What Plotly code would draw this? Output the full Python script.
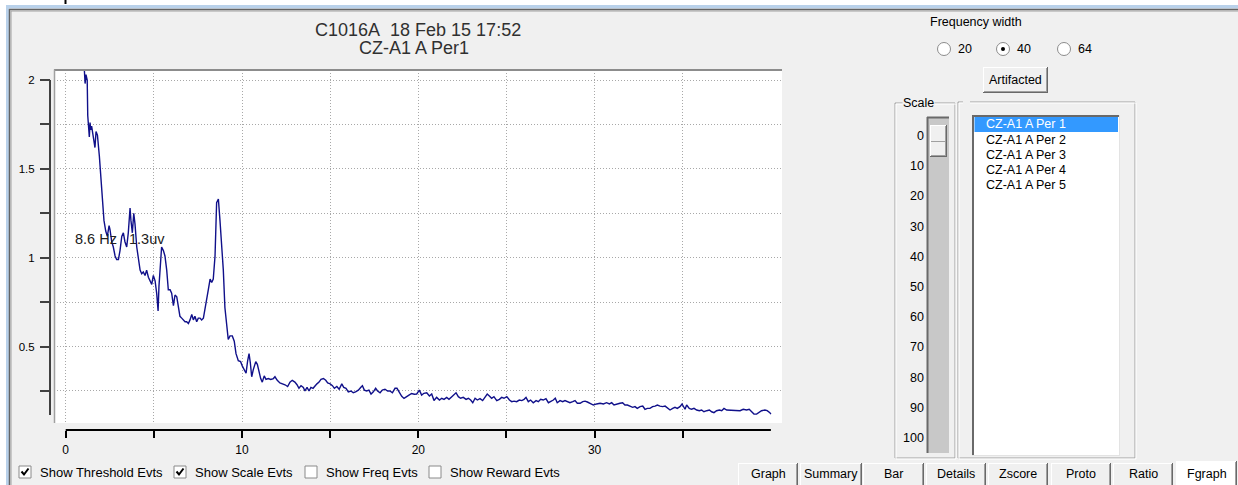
import plotly.graph_objects as go

W, H = 1238, 485
UI_FONT = "Liberation Sans, Arial, sans-serif"

# ---- data ----
title_lines = ["C1016A\u00a0 18 Feb 15 17:52", "CZ-A1 A Per1"]

# spectrum, Hz / uV
freq_hz = [
    0.95, 1.10, 1.15, 1.22, 1.25, 1.34, 1.38, 1.42, 1.47, 1.57,
    1.66, 1.72, 1.80, 1.91, 1.98, 2.10, 2.17, 2.27, 2.36, 2.46,
    2.51, 2.61, 2.70, 2.80, 2.89, 2.99, 3.08, 3.18, 3.27, 3.36,
    3.46, 3.55, 3.65, 3.70, 3.78, 3.86, 3.93, 4.03, 4.12, 4.22,
    4.31, 4.40, 4.50, 4.59, 4.69, 4.78, 4.88, 4.97, 5.07, 5.16,
    5.24, 5.29, 5.35, 5.44, 5.54, 5.63, 5.73, 5.82, 5.92, 6.01,
    6.11, 6.20, 6.30, 6.39, 6.48, 6.58, 6.67, 6.77, 6.86, 6.96,
    7.05, 7.15, 7.24, 7.33, 7.43, 7.52, 7.62, 7.71, 7.81, 7.90,
    8.00, 8.09, 8.19, 8.28, 8.37, 8.47, 8.56, 8.66, 8.75, 8.85,
    8.94,
    9.03, 9.13, 9.22, 9.32, 9.45, 9.56, 9.66, 9.79, 9.92, 10.02,
    10.13, 10.23, 10.32, 10.40, 10.47, 10.55, 10.64, 10.78, 10.87, 10.96,
    11.06, 11.15, 11.26, 11.36, 11.49, 11.63, 11.78, 11.87, 12.00, 12.15,
    12.29, 12.44, 12.59, 12.72, 12.85, 13.00, 13.12, 13.23, 13.35, 13.48,
    13.57, 13.69, 13.80, 13.91, 14.03, 14.14, 14.25, 14.37, 14.48, 14.62,
    14.75, 14.86, 15.00, 15.13, 15.24, 15.38, 15.51, 15.66, 15.77, 15.90,
    16.03, 16.18, 16.31, 16.44, 16.60, 16.73, 16.83, 16.94, 17.07, 17.20,
    17.32, 17.45, 17.58, 17.69, 17.83, 17.96, 18.11, 18.26, 18.39, 18.53,
    18.68, 18.79, 18.90, 19.06, 19.19, 19.34, 19.47,
    19.62, 19.77, 19.91, 20.06, 20.19, 20.32, 20.48, 20.63, 20.76, 20.89,
    21.04, 21.20, 21.33, 21.46, 21.61, 21.74, 21.90, 22.03, 22.14, 22.27,
    22.40, 22.55, 22.71, 22.84, 22.97, 23.09, 23.22, 23.35, 23.50, 23.65,
    23.78, 23.91, 24.03, 24.16, 24.29, 24.45, 24.60, 24.73, 24.86, 25.02,
    25.17, 25.30, 25.43, 25.58, 25.73, 25.87, 26.00, 26.11, 26.24, 26.37,
    26.52, 26.68, 26.81, 26.94, 27.09, 27.24, 27.38, 27.51, 27.66, 27.77,
    27.88, 28.04, 28.19, 28.32, 28.45, 28.60, 28.76, 28.89, 29.02, 29.18,
    29.33, 29.46, 29.59,
    29.74, 29.93, 30.12, 30.31, 30.50, 30.68, 30.84, 30.97, 31.10, 31.25,
    31.44, 31.59, 31.72, 31.86, 32.00, 32.16, 32.29, 32.42, 32.58, 32.73,
    32.86, 32.99, 33.14, 33.29, 33.43, 33.56, 33.71, 33.86, 34.00, 34.13,
    34.28, 34.43, 34.56, 34.69, 34.84, 34.96, 35.03, 35.13, 35.22, 35.37,
    35.50, 35.64, 35.79, 35.94, 36.07, 36.20, 36.36, 36.51, 36.64, 36.77,
    36.92, 37.08, 37.21, 37.34, 37.49, 37.68, 37.87, 38.06, 38.25, 38.43,
    38.62, 38.77, 38.90, 39.04, 39.19, 39.34, 39.47, 39.66, 39.79, 39.94,
    40.00,
]
amp_uv = [
    2.25, 1.98, 2.03, 2.00, 1.80, 1.68, 1.76, 1.72, 1.74, 1.66,
    1.62, 1.71, 1.69, 1.57, 1.46, 1.31, 1.21, 1.15, 1.12, 1.18,
    1.16, 1.09, 1.06, 1.01, 0.99, 0.99, 1.04, 1.12, 1.14, 1.09,
    1.06, 1.14, 1.28, 1.21, 1.14, 1.25, 1.19, 1.06, 0.99, 0.93,
    0.91, 0.92, 0.90, 0.93, 0.89, 0.87, 0.85, 0.90, 0.87, 0.80,
    0.70, 0.84, 0.95, 1.06, 1.04, 1.01, 0.93, 0.82, 0.82, 0.80,
    0.73, 0.79, 0.78, 0.71, 0.67, 0.66, 0.65, 0.64, 0.64, 0.63,
    0.65, 0.68, 0.65, 0.67, 0.64, 0.66, 0.66, 0.65, 0.66, 0.72,
    0.76, 0.82, 0.88, 0.86, 0.88, 1.01, 1.31, 1.33, 1.21, 1.08,
    0.93,
    0.72, 0.61, 0.54, 0.56, 0.56, 0.53, 0.46, 0.42, 0.415, 0.39,
    0.37, 0.35, 0.42, 0.46, 0.41, 0.33, 0.37, 0.415, 0.40, 0.36,
    0.32, 0.30, 0.335, 0.315, 0.32, 0.315, 0.32, 0.33, 0.31, 0.295,
    0.29, 0.285, 0.275, 0.30, 0.31, 0.30, 0.285, 0.265, 0.28, 0.27,
    0.25, 0.27, 0.25, 0.27, 0.265, 0.28, 0.29, 0.30, 0.315, 0.32,
    0.31, 0.295, 0.29, 0.28, 0.265, 0.275, 0.26, 0.29, 0.27, 0.265,
    0.245, 0.25, 0.24, 0.245, 0.255, 0.27, 0.28, 0.255, 0.25, 0.255,
    0.233, 0.245, 0.265, 0.25, 0.24, 0.255, 0.26, 0.25, 0.25, 0.24,
    0.265, 0.265, 0.245, 0.22, 0.208, 0.22, 0.227,
    0.236, 0.232, 0.233, 0.255, 0.227, 0.237, 0.24, 0.222, 0.233, 0.196,
    0.214, 0.199, 0.209, 0.203, 0.214, 0.203, 0.218, 0.233, 0.24, 0.218,
    0.209, 0.214, 0.203, 0.209, 0.199, 0.184, 0.209, 0.199, 0.207, 0.196,
    0.218, 0.233, 0.222, 0.209, 0.218, 0.196, 0.203, 0.214, 0.209, 0.218,
    0.199, 0.19, 0.193, 0.19, 0.199, 0.196, 0.203, 0.214, 0.19, 0.199,
    0.184, 0.196, 0.19, 0.203, 0.199, 0.207, 0.184, 0.19, 0.199, 0.209,
    0.184, 0.196, 0.19, 0.196, 0.19, 0.184, 0.19, 0.196, 0.181, 0.181,
    0.19, 0.193, 0.188,
    0.18, 0.171, 0.177, 0.181, 0.177, 0.184, 0.177, 0.184, 0.171, 0.177,
    0.181, 0.184, 0.171, 0.171, 0.165, 0.158, 0.162, 0.152, 0.162, 0.165,
    0.147, 0.152, 0.152, 0.162, 0.165, 0.171, 0.165, 0.162, 0.165, 0.152,
    0.143, 0.152, 0.158, 0.152, 0.162, 0.177, 0.165, 0.147, 0.171, 0.152,
    0.147, 0.152, 0.143, 0.139, 0.143, 0.133, 0.139, 0.143, 0.133, 0.128,
    0.139, 0.143, 0.139, 0.152, 0.143, 0.143, 0.143, 0.143, 0.139, 0.147,
    0.143, 0.147, 0.133, 0.12, 0.12, 0.133, 0.139, 0.143, 0.139, 0.128,
    0.12,
]
peak_hz = 8.6
peak_uv = 1.3

x_ticks = [0, 5, 10, 15, 20, 25, 30, 35]
x_tick_text = ["0", "", "10", "", "20", "", "30", ""]
y_ticks = [0.25, 0.5, 0.75, 1.0, 1.25, 1.5, 1.75, 2.0]
y_tick_text = ["", "0.5", "", "1", "", "1.5", "", "2"]

freq_width_opts = ["20", "40", "64"]
freq_width_sel = "40"
scale_labels = ["0", "10", "20", "30", "40", "50", "60", "70", "80", "90", "100"]
period_items = ["CZ-A1 A Per 1", "CZ-A1 A Per 2", "CZ-A1 A Per 3", "CZ-A1 A Per 4", "CZ-A1 A Per 5"]
event_toggles = ["Show Threshold Evts", "Show Scale Evts", "Show Freq Evts", "Show Reward Evts"]
event_checked = [True, True, False, False]
tab_names = ["Graph", "Summary", "Bar", "Details", "Zscore", "Proto", "Ratio", "Fgraph"]
active_tab = "Fgraph"


# ---- pixel helpers for the window chrome ----
shapes = []
annotations = []


def px(x):
    return x / W


def py(y):
    return 1 - y / H


def box(x0, y0, x1, y1, fill="rgba(0,0,0,0)", line=None, lw=1, layer="above"):
    shapes.append(dict(type="rect", xref="paper", yref="paper",
                       x0=px(x0), y0=py(y1), x1=px(x1), y1=py(y0),
                       fillcolor=fill, layer=layer,
                       line=dict(color=line if line else "rgba(0,0,0,0)", width=lw if line else 0)))


def seg(x0, y0, x1, y1, color, lw=1, layer="above"):
    shapes.append(dict(type="line", xref="paper", yref="paper",
                       x0=px(x0), y0=py(y0), x1=px(x1), y1=py(y1),
                       line=dict(color=color, width=lw), layer=layer))


def label(x, y, s, size=12.5, anchor="left", color="#000000", bg=None):
    a = dict(xref="paper", yref="paper", x=px(x), y=py(y), text=s, showarrow=False,
             xanchor=anchor, yanchor="middle", borderpad=0,
             font=dict(size=size, color=color, family=UI_FONT))
    if bg:
        a["bgcolor"] = bg
    annotations.append(a)


def raised(x0, y0, x1, y1, fill="#f0f0f0"):
    box(x0, y0, x1, y1, fill)
    seg(x0, y0 + 0.5, x1, y0 + 0.5, "#ffffff")
    seg(x0 + 0.5, y0, x0 + 0.5, y1, "#ffffff")
    seg(x1 - 0.5, y0, x1 - 0.5, y1, "#696969")
    seg(x0, y1 - 0.5, x1, y1 - 0.5, "#696969")
    seg(x1 - 1.5, y0 + 1, x1 - 1.5, y1 - 1, "#a0a0a0")
    seg(x0 + 1, y1 - 1.5, x1 - 1, y1 - 1.5, "#a0a0a0")


def etched(x0, y0, x1, y1):
    box(x0, y0, x1, y1, line="#a0a0a0")
    box(x0 + 1, y0 + 1, x1 + 1, y1 + 1, line="#ffffff")


# window frame
box(0, 0, W, 5, "#ffffff")
box(0, 0, 6, H, "#ffffff")
box(6, 5, W, 8.5, "#b9d1ea")
box(6, 5, 9, H, "#b9d1ea")
seg(9, 9.5, W, 9.5, "#646464", 1.5)
seg(9.5, 9, 9.5, H, "#646464", 1.5)
seg(11, 11, W, 11, "#a0a0a0")
seg(11, 11, 11, H, "#a0a0a0")
box(64.5, 0, 66.5, 4, "#000000")

# plot panel
box(54, 69.5, 782, 423, "#ffffff", layer="below")
seg(54, 70, 782, 70, "#8c8c8c", 2)
seg(54.5, 69.5, 54.5, 423, "#a0a0a0", 1.5)

# titles
label(418, 30, title_lines[0], 18, "center", "#303030")
label(414, 48.5, title_lines[1], 18, "center", "#303030")

# event check boxes
for name, checked, x0 in zip(event_toggles, event_checked, [19, 174, 305, 429]):
    box(x0, 466, x0 + 12, 478, "#ffffff", "#8a8a8a")
    if checked:
        shapes.append(dict(type="path", xref="paper", yref="paper",
                           path=f"M {px(x0 + 2.5)},{py(471.5)} L {px(x0 + 5)},{py(474.5)} L {px(x0 + 9.5)},{py(468.5)}",
                           line=dict(color="#000000", width=2)))
    label(x0 + 20, 472, name, 13)

# frequency width radios
label(976, 22, "Frequency width", 12.5, "center")
for opt, cx in zip(freq_width_opts, [944, 1003, 1064]):
    shapes.append(dict(type="circle", xref="paper", yref="paper",
                       x0=px(cx - 6.5), x1=px(cx + 6.5), y0=py(49 + 6.5), y1=py(49 - 6.5),
                       fillcolor="#ffffff", line=dict(color="#8c8c8c", width=1)))
    if opt == freq_width_sel:
        shapes.append(dict(type="circle", xref="paper", yref="paper",
                           x0=px(cx - 2), x1=px(cx + 2), y0=py(49 + 2), y1=py(49 - 2),
                           fillcolor="#000000", line=dict(width=0)))
    label(cx + 13, 49, opt, 12.5)

# Artifacted button
raised(983, 67, 1048, 93)
label(1015.5, 80, "Artifacted", 12.5, "center")

# Scale group + slider
etched(895, 103, 955, 458)
label(902, 103, "Scale", 12.5, "left", bg="#f0f0f0")
box(927, 117, 949, 453, "#c8c8c8")
seg(927, 117.5, 949, 117.5, "#696969", 2)
seg(927.5, 117, 927.5, 453, "#696969", 2)
raised(930, 125, 947, 157)
seg(931, 141.5, 946, 141.5, "#a0a0a0")
for i, s in enumerate(scale_labels):
    label(925, 136 + 30.2 * i, s, 12.5, "right")

# period list
etched(958, 102, 1135, 458)
box(963, 100, 970, 105, "#f0f0f0")
box(972, 115, 1120, 456, "#ffffff")
seg(972, 116, 1120, 116, "#696969", 2)
seg(973, 115, 973, 456, "#696969", 2)
seg(1119.5, 115, 1119.5, 456, "#e3e3e3")
seg(972, 455.5, 1120, 455.5, "#e3e3e3")
box(974.5, 117, 1118, 132, "#3399ff")
for i, s in enumerate(period_items):
    label(985, 124.5 + 15.2 * i, s, 12.5, "left", "#ffffff" if i == 0 else "#000000")

# tabs
tab_x = [(738, 798), (800, 862), (863, 924), (926, 986), (988, 1048), (1051, 1111), (1113, 1173), (1176, 1237)]
for name, (x0, x1) in zip(tab_names, tab_x):
    if name == active_tab:
        raised(x0, 461, x1, 487, "#ffffff")
    else:
        raised(x0, 463, x1, 487, "#f0f0f0")
    label((x0 + x1) / 2, 473.5, name, 12.5, "center")

# axis lines drawn on the data scales
shapes.append(dict(type="line", xref="x", yref="paper", x0=0, x1=40, y0=py(430), y1=py(430),
                   line=dict(color="#000000", width=2)))
shapes.append(dict(type="line", xref="paper", yref="y", x0=px(50), x1=px(50), y0=0.115, y1=2.0,
                   line=dict(color="#404040", width=2)))

annotations.append(dict(xref="x", yref="y", x=0.4, y=1.105, xanchor="left", yanchor="middle",
                        text=f"{peak_hz} Hz\u00a0\u00a0\u00a0{peak_uv}uv", showarrow=False,
                        font=dict(size=14.5, color="#202020", family=UI_FONT)))

fig = go.Figure(go.Scatter(x=freq_hz, y=amp_uv, mode="lines",
                           line=dict(color="#10108a", width=1.4), hoverinfo="x+y"))

fig.update_layout(
    width=W, height=H, margin=dict(l=0, r=0, t=0, b=0),
    paper_bgcolor="#f0f0f0", plot_bgcolor="rgba(0,0,0,0)",
    showlegend=False, font=dict(family=UI_FONT, color="#000000"),
    shapes=shapes, annotations=annotations,
    xaxis=dict(domain=[px(54), px(782)], range=[-0.664, 40.63], anchor="free", position=py(430),
               tickvals=x_ticks, ticktext=x_tick_text, ticks="outside", ticklen=7, tickwidth=2,
               tickcolor="#000000", showgrid=True, gridcolor="#a8a8a8", griddash="1px,2px", gridwidth=1,
               zeroline=False, showline=False, ticklabelstandoff=2,
               tickfont=dict(size=12, color="#000000", family=UI_FONT), fixedrange=True),
    yaxis=dict(domain=[py(423), py(69.5)], range=[0.0698, 2.0591], anchor="free", position=px(50),
               tickvals=y_ticks, ticktext=y_tick_text, ticks="outside", ticklen=10, tickwidth=1.5,
               tickcolor="#404040", showgrid=True, gridcolor="#a8a8a8", griddash="1px,2px", gridwidth=1,
               zeroline=False, showline=False, ticklabelstandoff=3,
               tickfont=dict(size=11.5, color="#000000", family=UI_FONT), fixedrange=True),
)

# the page's default body margin would shift the figure by 8px
fig.write_html("out.html", config={"displayModeBar": False},
               post_script="document.body.style.margin='0';")
